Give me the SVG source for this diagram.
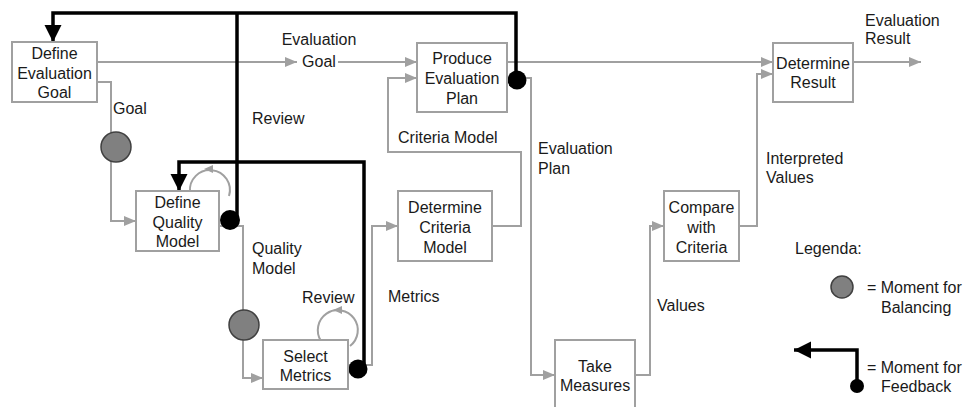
<svg xmlns="http://www.w3.org/2000/svg" width="968" height="407" viewBox="0 0 968 407">
<style>
.box{fill:#fff;stroke:#a0a0a0;stroke-width:2}
.t{font-family:"Liberation Sans",Arial,sans-serif;font-size:16px;fill:#1a1a1a}
.c{text-anchor:middle}
.g{fill:none;stroke:#a0a0a0;stroke-width:2}
.k{fill:none;stroke:#000;stroke-width:3.5}
.bal{fill:#808080;stroke:#404040;stroke-width:1.5}
.dot{fill:#000}
.gh{fill:#a0a0a0}
</style>
<defs>
<marker id="ga" markerUnits="userSpaceOnUse" markerWidth="12" markerHeight="12" viewBox="0 0 12 12" refX="12" refY="6" orient="auto"><path d="M0,1 L12,6 L0,11 Z" fill="#a0a0a0"/></marker>
<marker id="ka" markerUnits="userSpaceOnUse" markerWidth="18" markerHeight="18" viewBox="0 0 18 18" refX="17" refY="9" orient="auto"><path d="M0,0.5 L17,9 L0,17.5 Z" fill="#000"/></marker>
</defs>

<g id="connectors">
<path class="g" d="M97,62 H297" marker-end="url(#ga)"/>
<path class="g" d="M338,62 H417" marker-end="url(#ga)"/>
<path class="g" d="M507,62 H773" marker-end="url(#ga)"/>
<path class="g" d="M853,62 H921" marker-end="url(#ga)"/>
<path class="g" d="M97,82 H111 V221 H136" marker-end="url(#ga)"/>
<path class="g" d="M219,226 H243 V378 H263" marker-end="url(#ga)"/>
<path class="g" d="M348,365 H372 V226 H398" marker-end="url(#ga)"/>
<path class="g" d="M492,226 H521 V152 H388 V78 H417" marker-end="url(#ga)"/>
<path class="g" d="M507,78 H531 V375 H555" marker-end="url(#ga)"/>
<path class="g" d="M635,375 H650 V226 H664" marker-end="url(#ga)"/>
<path class="g" d="M739,226 H757 V74 H773" marker-end="url(#ga)"/>
<path class="g" d="M229,196 A20,20 0 1 0 190,192"/>
<path class="gh" d="M204,169 L213,165 L213,173 Z"/>
<path class="g" d="M350,346 A20,20 0 1 0 321,341"/>
<path class="gh" d="M333,310 L342,306 L342,314 Z"/>
<circle class="bal" cx="116" cy="147" r="15"/>
<circle class="bal" cx="244" cy="325" r="15"/>
<path class="k" d="M516,80 V13 H53 V42" marker-end="url(#ka)"/>
<path class="k" d="M237,13 V218"/>
<path class="k" d="M364,369 V162 H179 V191" marker-end="url(#ka)"/>
<circle class="dot" cx="517" cy="80" r="9.5"/>
<circle class="dot" cx="230" cy="220" r="10"/>
<circle class="dot" cx="358" cy="369" r="9.5"/>
<text class="t" x="319" y="45" text-anchor="middle">Evaluation</text>
<text class="t" x="319" y="67" text-anchor="middle">Goal</text>
<text class="t" x="113" y="114">Goal</text>
<text class="t" x="252" y="124">Review</text>
<text class="t" x="252" y="254">Quality</text>
<text class="t" x="252" y="274">Model</text>
<text class="t" x="302" y="303">Review</text>
<text class="t" x="388" y="302">Metrics</text>
<text class="t" x="398" y="143">Criteria Model</text>
<text class="t" x="538" y="154">Evaluation</text>
<text class="t" x="538" y="174">Plan</text>
<text class="t" x="657" y="311">Values</text>
<text class="t" x="766" y="164">Interpreted</text>
<text class="t" x="766" y="183">Values</text>
<text class="t" x="865" y="26">Evaluation</text>
<text class="t" x="865" y="44">Result</text>
</g>

<g id="defineEvaluationGoal">
<rect class="box" x="12" y="42" width="85" height="60"/>
<text class="t c" x="54.5" y="59">Define</text>
<text class="t c" x="54.5" y="78.5">Evaluation</text>
<text class="t c" x="54.5" y="98">Goal</text>
</g>
<g id="produceEvaluationPlan">
<rect class="box" x="417" y="43" width="90" height="69"/>
<text class="t c" x="462" y="64">Produce</text>
<text class="t c" x="462" y="84">Evaluation</text>
<text class="t c" x="462" y="104">Plan</text>
</g>
<g id="determineResult">
<rect class="box" x="773" y="43" width="80" height="59"/>
<text class="t c" x="813" y="69">Determine</text>
<text class="t c" x="813" y="88">Result</text>
</g>
<g id="defineQualityModel">
<rect class="box" x="136" y="191" width="83" height="60"/>
<text class="t c" x="177.5" y="208">Define</text>
<text class="t c" x="177.5" y="228">Quality</text>
<text class="t c" x="177.5" y="247">Model</text>
</g>
<g id="determineCriteriaModel">
<rect class="box" x="398" y="191" width="94" height="70"/>
<text class="t c" x="445" y="213">Determine</text>
<text class="t c" x="445" y="233">Criteria</text>
<text class="t c" x="445" y="253">Model</text>
</g>
<g id="compareWithCriteria">
<rect class="box" x="664" y="191" width="75" height="70"/>
<text class="t c" x="701.5" y="213">Compare</text>
<text class="t c" x="701.5" y="233">with</text>
<text class="t c" x="701.5" y="253">Criteria</text>
</g>
<g id="selectMetrics">
<rect class="box" x="263" y="340" width="85" height="49"/>
<text class="t c" x="305.5" y="362">Select</text>
<text class="t c" x="305.5" y="381">Metrics</text>
</g>
<g id="takeMeasures">
<rect class="box" x="555" y="340" width="80" height="75"/>
<text class="t c" x="595" y="372">Take</text>
<text class="t c" x="595" y="391">Measures</text>
</g>

<g id="legend">
<text class="t" x="795" y="254">Legenda:</text>
<circle class="bal" cx="842" cy="287" r="11"/>
<text class="t" x="867" y="293">= Moment for</text>
<text class="t" x="881" y="313">Balancing</text>
<path class="k" d="M857,386 V350 H794" marker-end="url(#ka)"/>
<circle class="dot" cx="857" cy="386" r="7"/>
<text class="t" x="867" y="373">= Moment for</text>
<text class="t" x="881" y="392">Feedback</text>
</g>
</svg>
